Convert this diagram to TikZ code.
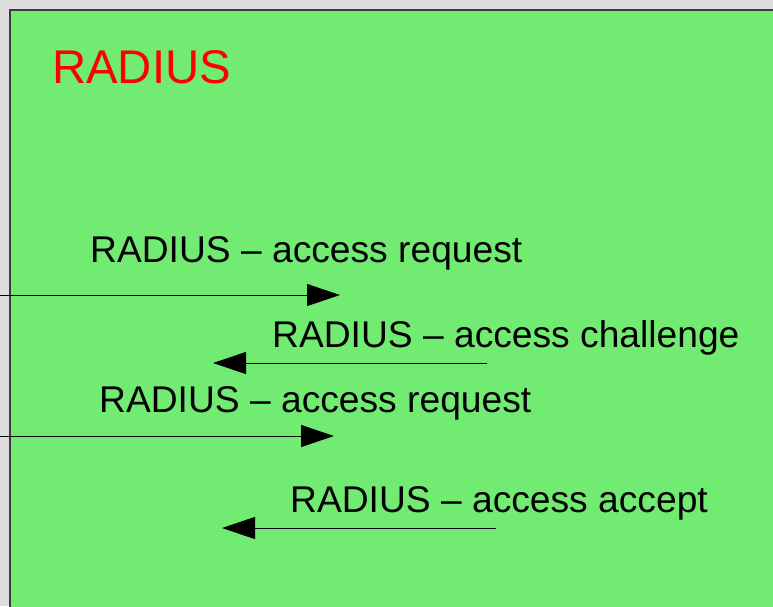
\documentclass[tikz,border=0pt]{standalone}
\usepackage{fontspec}
\setmainfont{Liberation Sans}
\usetikzlibrary{arrows.meta}
\definecolor{bggray}{HTML}{DDDDDD}
\definecolor{boxgreen}{HTML}{72EB72}
\definecolor{edgegray}{HTML}{3C3C3C}
\tikzset{
  msg/.style={anchor=base west, inner sep=0pt, font=\fontsize{37.2}{42}\selectfont, text=black},
  title/.style={anchor=base west, inner sep=0pt, font=\fontsize{47.3}{52}\selectfont, text=red},
  flow/.style={draw=black, line width=1pt, -{Triangle[length=33pt,width=22pt]}},
}
\begin{document}
\begin{tikzpicture}[x=1pt,y=-1pt]
  \fill[bggray] (0,0) rectangle (773,606);
  \useasboundingbox (0,0) rectangle (773,606);
  \fill[boxgreen] (10,10) rectangle (780,620);
  \draw[edgegray, line width=1.5pt] (10,620) -- (10,10) -- (780,10);
  \node[title] (t) at (52,83.5) {RADIUS};
  \node[msg] (m1) at (90,262.5) {RADIUS – access request};
  \node[msg] (m2) at (272,347.5) {RADIUS – access challenge};
  \node[msg] (m3) at (99,412.5) {RADIUS – access request};
  \node[msg] (m4) at (290,512.5) {RADIUS – access accept};
  \coordinate (a1s) at (0,295);   \coordinate (a1e) at (340,295);
  \coordinate (a2s) at (487,363); \coordinate (a2e) at (213,363);
  \coordinate (a3s) at (0,436);   \coordinate (a3e) at (334,436);
  \coordinate (a4s) at (496,528); \coordinate (a4e) at (222,528);
  \draw[flow] (a1s) -- (a1e);
  \draw[flow] (a2s) -- (a2e);
  \draw[flow] (a3s) -- (a3e);
  \draw[flow] (a4s) -- (a4e);
\end{tikzpicture}
\end{document}
